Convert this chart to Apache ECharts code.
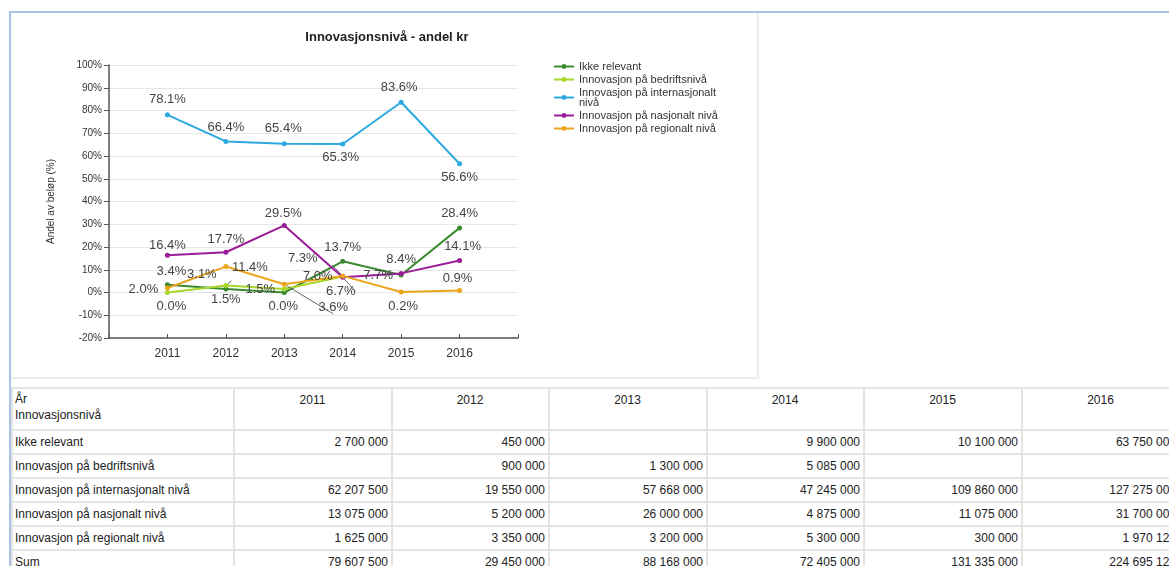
<!DOCTYPE html>
<html>
<head>
<meta charset="utf-8">
<script src="https://cdn.jsdelivr.net/npm/echarts@6/dist/echarts.min.js"></script>
<style>
body{margin:0;background:#fff;font-family:"Liberation Sans",Arial,sans-serif;overflow:hidden;width:1169px;height:566px;position:relative}
#frame{position:absolute;left:9px;top:11px;width:1170px;height:570px;border-top:2px solid #a9c3e4;border-left:2px solid #a9c3e4}
#chart{position:absolute;left:11px;top:13px;width:746px;height:364px;border-right:2px solid #ececec;border-bottom:2px solid #ececec}
#tbl{position:absolute;left:11px;top:387px;border-collapse:collapse;table-layout:fixed;font-size:12px;color:#222}
#tbl td{border:2px solid #e4e4e4;padding:0 3px 0 2px;height:22px;white-space:nowrap;overflow:hidden}
#tbl tr.head td{height:36px;vertical-align:top;padding-top:4px;text-align:center}
#tbl tr.head td:first-child{text-align:left;line-height:16px;padding-top:2px}
#tbl td.num{text-align:right}
</style>
</head>
<body>
<div id="frame"></div>
<div id="chart"></div>
<table id="tbl"></table>
<script>
var years = [2011, 2012, 2013, 2014, 2015, 2016];
var names = ['Ikke relevant', 'Innovasjon på bedriftsnivå', 'Innovasjon på internasjonalt nivå',
    'Innovasjon på nasjonalt nivå', 'Innovasjon på regionalt nivå'];

// andel av beløp (%)
var ikkeShare = [3.4, 1.5, 0.0, 13.7, 7.7, 28.4];
var bedriftShare = [0.0, 3.1, 1.5, 7.0, null, null];
var intlShare = [78.1, 66.4, 65.4, 65.3, 83.6, 56.6];
var nasjShare = [16.4, 17.7, 29.5, 6.7, 8.4, 14.1];
var regionalShare = [2.0, 11.4, 3.6, 7.3, 0.2, 0.9];

// beløp kr (tabell)
var ikkeKr = [2700000, 450000, null, 9900000, 10100000, 63750000];
var bedriftKr = [null, 900000, 1300000, 5085000, null, null];
var intlKr = [62207500, 19550000, 57668000, 47245000, 109860000, 127275000];
var nasjKr = [13075000, 5200000, 26000000, 4875000, 11075000, 31700000];
var regionalKr = [1625000, 3350000, 3200000, 5300000, 300000, 1970125];
var sumKr = [79607500, 29450000, 88168000, 72405000, 131335000, 224695125];

var colors = ['#3b8a30', '#a8d62a', '#2ea8e0', '#9b1c99', '#eba51b'];

// label placement relative to the point [dx, dy], plus leader line flag
var labelPos = [
    [[4, -13], [0, 10], [-1, 14], [0, -14], [-23, 0], [0, -14]],
    [[4, 14], [-24, -11, 1], [-24, 0], [-25, 0], null, null],
    [[0, -15], [0, -14], [-1, -15], [-2, 13], [-2, -15], [0, 14]],
    [[0, -10], [0, -13], [-1, -12], [-2, 14, 1], [0, -14], [3, -14]],
    [[-24, 1], [24, 1], [49, 23, 1], [-40, -17, 1], [2, 14], [-2, -12]]
];

var shares = [ikkeShare, bedriftShare, intlShare, nasjShare, regionalShare];

var chartDom = document.getElementById('chart');
var myChart = echarts.init(chartDom);
var option;

var series = names.map(function (n, s) {
    return {
        name: n,
        type: 'line',
        symbol: 'circle',
        symbolSize: 5,
        color: colors[s],
        lineStyle: {width: 2},
        connectNulls: false,
        label: {
            show: true,
            position: 'inside',
            color: '#444',
            fontSize: 13,
            fontFamily: 'Liberation Sans, Arial',
            formatter: function (p) { return p.value[1].toFixed(1) + '%'; }
        },
        labelLine: {show: false},
        data: years.map(function (y, i) {
            var v = shares[s][i];
            if (v === null) return [y, null];
            var lp = labelPos[s][i];
            var item = {value: [y, v], label: {offset: [lp[0], lp[1]]}};
            if (lp[2]) item.labelLine = {show: true, lineStyle: {color: '#666', width: 1}};
            return item;
        })
    };
});

option = {
    animation: false,
    textStyle: {fontFamily: 'Liberation Sans, Arial'},
    title: {
        text: 'Innovasjonsnivå - andel kr',
        left: 371,
        top: 13,
        textAlign: 'center',
        textStyle: {fontSize: 13, fontWeight: 'bold', color: '#222'}
    },
    legend: {
        orient: 'vertical',
        left: 537,
        top: 43,
        itemWidth: 20,
        itemHeight: 6,
        itemGap: 2,
        textStyle: {fontSize: 11, color: '#333', lineHeight: 10},
        formatter: function (n) {
            return n === 'Innovasjon på internasjonalt nivå' ? 'Innovasjon på internasjonalt\nnivå' : n;
        },
        data: names
    },
    grid: {left: 98, top: 52, width: 409, height: 273},
    xAxis: {
        type: 'value',
        min: 2010,
        max: 2017,
        interval: 1,
        axisLine: {onZero: false, lineStyle: {color: '#555', width: 1.5}},
        axisTick: {inside: true, length: 4, lineStyle: {color: '#555'}},
        splitLine: {show: false},
        axisLabel: {
            fontSize: 12,
            color: '#333',
            margin: 10,
            formatter: function (v) { return (v >= 2011 && v <= 2016) ? String(v) : ''; }
        }
    },
    yAxis: {
        type: 'value',
        min: -20,
        max: 100,
        interval: 10,
        name: 'Andel av beløp (%)',
        nameLocation: 'middle',
        nameGap: 53,
        nameTextStyle: {fontSize: 10, color: '#333'},
        axisLine: {show: true, onZero: false, lineStyle: {color: '#555', width: 1.5}},
        axisTick: {show: true, length: 5, lineStyle: {color: '#555'}},
        splitLine: {lineStyle: {color: '#e6e6e6'}},
        axisLabel: {fontSize: 10, color: '#333', margin: 7, formatter: '{value}%'}
    },
    series: series
};

option && myChart.setOption(option);

// tabell
function fmt(v) {
    if (v === null) return '';
    return String(v).replace(/\B(?=(\d{3})+(?!\d))/g, ' ');
}
var rowsKr = [ikkeKr, bedriftKr, intlKr, nasjKr, regionalKr, sumKr];
var rowNames = names.concat(['Sum']);
var widths = [222, 158, 157, 158, 157, 158, 158];
var html = '<colgroup>' + widths.map(function (w) { return '<col style="width:' + w + 'px">'; }).join('') + '</colgroup>';
html += '<tr class="head"><td>År<br>Innovasjonsnivå</td>' + years.map(function (y) { return '<td>' + y + '</td>'; }).join('') + '</tr>';
rowsKr.forEach(function (r, i) {
    html += '<tr><td>' + rowNames[i] + '</td>' + r.map(function (v) { return '<td class="num">' + fmt(v) + '</td>'; }).join('') + '</tr>';
});
var tbl = document.getElementById('tbl');
tbl.style.width = widths.reduce(function (a, b) { return a + b; }, 0) + 'px';
tbl.innerHTML = html;
</script>
</body>
</html>
